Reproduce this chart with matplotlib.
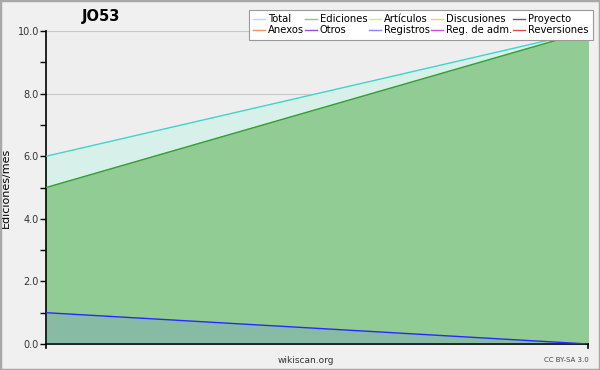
import matplotlib.pyplot as plt
from matplotlib.lines import Line2D
from matplotlib.patches import Rectangle

# datos
x = [0, 1]
total = [6.0, 10.0]
ediciones = [5.0, 10.0]
registros = [1.0, 0.0]

legend_names = ['Total', 'Anexos', 'Ediciones', 'Otros', 'Artículos', 'Registros',
                'Discusiones', 'Reg. de adm.', 'Proyecto', 'Reversiones']
legend_colors = ['#a8e4e4', '#f09060', '#88c888', '#9050e0', '#c8f080', '#8888f0',
                 '#f0d070', '#c850e0', '#606060', '#e04848']

fig = plt.figure(figsize=(6, 3.7), dpi=100, facecolor='#f0f0f0')
fig.patches.append(Rectangle((0, 0), 1, 1, transform=fig.transFigure, fill=False,
                             edgecolor='#a8a8a8', linewidth=2.5))
ax = fig.add_axes([0.0767, 0.0703, 0.9033, 0.8457])
ax.set_facecolor('#eeeeef')

ax.fill_between(x, total, color='#d8f0ea', zorder=1)
ax.fill_between(x, ediciones, color='#90cc94', zorder=2)
ax.fill_between(x, registros, color='#6060ff', alpha=0.15, zorder=3, linewidth=0)
ax.plot(x, total, color='#40d4cc', lw=1, zorder=4)
ax.plot(x, ediciones, color='#30a030', lw=1, zorder=4)
ax.plot(x, registros, color='#2828ff', lw=1, zorder=4)

ax.set_xlim(0, 1)
ax.set_ylim(0, 10)
ax.set_yticks([0, 2, 4, 6, 8, 10])
ax.set_yticklabels(['0.0', '2.0', '4.0', '6.0', '8.0', '10.0'], fontsize=7, color='#333333')
ax.set_yticks([1, 3, 5, 7, 9], minor=True)
ax.set_xticks([])
ax.tick_params(axis='y', which='both', length=4, width=1, pad=1)
ax.grid(axis='y', color='#c8c8c8', lw=0.8, zorder=0)
ax.set_axisbelow(True)
for s in ['top', 'right']:
    ax.spines[s].set_visible(False)
ax.spines['left'].set_linewidth(1.2)
ax.spines['bottom'].set_linewidth(1.2)
ax.plot([1, 1], [0, -0.13], color='black', lw=1.2, clip_on=False)
ax.plot([0, 0], [0, -0.13], color='black', lw=1.2, clip_on=False)

ax.set_ylabel('Ediciones/mes', fontsize=8, labelpad=5)

handles = [Line2D([0], [0], color=c, lw=1) for c in legend_colors]
leg = fig.legend(handles, legend_names, ncol=5, loc='upper right',
                 bbox_to_anchor=(0.988, 0.973), fontsize=7.2, frameon=True,
                 fancybox=False, edgecolor='#999999', framealpha=1,
                 handlelength=1.15, handletextpad=0.3, columnspacing=0.15,
                 labelspacing=0.1, borderpad=0.45, borderaxespad=0)
leg.get_frame().set_linewidth(0.8)

fig.text(0.168, 0.955, 'JO53', fontsize=10.5, fontweight='bold', ha='center', va='center')
fig.text(0.51, 0.027, 'wikiscan.org', fontsize=6.5, ha='center', va='center', color='#333333')
fig.text(0.982, 0.027, 'CC BY-SA 3.0', fontsize=5, ha='right', va='center', color='#444444')

fig.savefig('out.png', dpi=100, facecolor=fig.get_facecolor())
